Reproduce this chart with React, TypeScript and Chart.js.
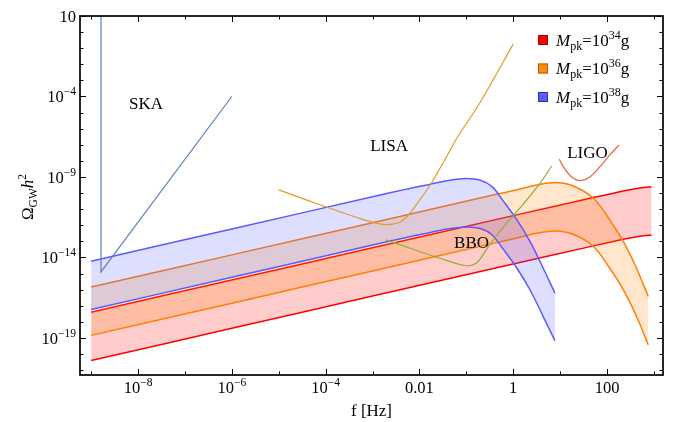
import React, { useEffect, useRef } from "react";
import { Chart, registerables } from "chart.js";
Chart.register(...registerables);

// ---- axis ranges (log10 exponents) ----
const X_MIN_EXP = -9.237;
const X_MAX_EXP = 3.194;
const Y_MIN_EXP = -21.3;
const Y_MAX_EXP = 1;

// ---- ticks ----
const xMajorExps = [-8, -6, -4, -2, 0, 2];
const xMajorBase = ["10", "10", "10", "0.01", "1", "100"];
const xMajorSup = ["−8", "−6", "−4", "", "", ""];
const xMinorExps = [-9, -7, -5, -3, -1, 1, 3];
const yMajorExps = [1, -4, -9, -14, -19];
const yMajorBase = ["10", "10", "10", "10", "10"];
const yMajorSup = ["", "−4", "−9", "−14", "−19"];
const yMinorExps = [0, -1, -2, -3, -5, -6, -7, -8, -10, -11, -12, -13, -15, -16, -17, -18, -20, -21];

// ---- PBH-induced GW bands (log10 f, log10 Ω) ----
const redLogF = [-9, -6, -3, 0, 1.5, 2.2, 2.6, 2.95];
const redUpperLogO = [-17.4, -15.4, -13.4, -11.4, -10.42, -9.96, -9.73, -9.6];
const redLowerLogO = [-20.4, -18.4, -16.4, -14.4, -13.42, -12.96, -12.73, -12.6];

const orangeLogF = [-9, -6, -3, -0.5, 0.1, 0.5, 0.89, 1.28, 1.71, 2.06, 2.35, 2.63, 2.88];
const orangeUpperLogO = [-15.84, -13.84, -11.84, -10.17, -9.78, -9.5, -9.35, -9.56, -10.32, -11.67, -13.02, -14.67, -16.43];
const orangeLowerLogO = [-18.84, -16.84, -14.84, -13.17, -12.78, -12.5, -12.35, -12.56, -13.32, -14.67, -16.02, -17.67, -19.43];

const blueLogF = [-9, -6, -3, -2.3, -1.77, -1.35, -1.0, -0.7, -0.45, -0.21, 0.08, 0.36, 0.64, 0.89];
const blueUpperLogO = [-14.23, -12.23, -10.23, -9.77, -9.45, -9.2, -9.1, -9.2, -9.6, -10.5, -11.67, -13.02, -14.67, -16.22];
const blueLowerLogO = [-17.23, -15.23, -13.23, -12.77, -12.45, -12.2, -12.1, -12.2, -12.6, -13.5, -14.67, -16.02, -17.67, -19.18];

// ---- detector sensitivity curves ----
const skaLogF = [-8.79, -8.79, -6.0];
const skaLogO = [2, -14.9, -4.0];

const lisaLogF = [-5.0, -4.0, -3.3, -2.9, -2.64, -2.4, -2.2, -2.0, -1.77, -1.42, -1.2, -0.7, 0];
const lisaLogO = [-9.8, -10.85, -11.55, -11.88, -11.95, -11.78, -11.25, -10.45, -9.5, -7.74, -6.58, -4.34, -0.75];

const bboLogF = [-2.71, -2.13, -1.56, -1.03, -0.79, -0.5, -0.15, 0.21, 0.57, 0.82];
const bboLogO = [-12.91, -13.49, -14.05, -14.5, -14.36, -13.2, -11.9, -10.7, -9.4, -8.32];

const ligoLogF = [0.98, 1.14, 1.28, 1.44, 1.64, 1.85, 2.06, 2.26];
const ligoLogO = [-7.9, -8.67, -9.08, -9.23, -8.98, -8.36, -7.63, -7.0];

// ---- legend ----
const legendExps = ["34", "36", "38"];
const legendColors = ["#ff0000", "#ff8a10", "#5a5aff"];
const legendBorders = ["#b00000", "#c05a00", "#3030b0"];

// ---- annotations (text, log10 f, log10 Ω of left/middle anchor) ----
const annoText = ["SKA", "LISA", "LIGO", "BBO"];
const annoLogF = [-8.19, -3.05, 1.15, -1.26];
const annoLogO = [-4.4, -7.01, -7.45, -13.04];

const FONT = '"Liberation Serif", "Times New Roman", serif';

const pts = (lx: number[], ly: number[]) => lx.map((v, i) => ({ x: 10 ** v, y: 10 ** ly[i] }));

type Part = { t: string; size: number; italic?: boolean; dy?: number };

function drawRich(ctx: CanvasRenderingContext2D, parts: Part[], x: number, y: number, align: "left" | "right" | "center") {
  let total = 0;
  const widths = parts.map((p) => {
    ctx.font = `${p.italic ? "italic " : ""}${p.size}px ${FONT}`;
    const w = ctx.measureText(p.t).width;
    total += w;
    return w;
  });
  let cx = align === "left" ? x : align === "right" ? x - total : x - total / 2;
  ctx.textAlign = "left";
  ctx.textBaseline = "alphabetic";
  parts.forEach((p, i) => {
    ctx.font = `${p.italic ? "italic " : ""}${p.size}px ${FONT}`;
    ctx.fillText(p.t, cx, y + (p.dy || 0));
    cx += widths[i];
  });
}

const decoPlugin = {
  id: "deco",
  afterDraw(chart: any) {
    const { ctx, chartArea: a, scales } = chart;
    const xs = scales.x;
    const ys = scales.y;
    ctx.save();
    ctx.fillStyle = "#000";
    ctx.strokeStyle = "#000";
    ctx.lineWidth = 1.7;
    ctx.strokeRect(a.left, a.top, a.right - a.left, a.bottom - a.top);
    ctx.lineWidth = 1;
    const tick = (x1: number, y1: number, x2: number, y2: number) => {
      ctx.beginPath();
      ctx.moveTo(x1, y1);
      ctx.lineTo(x2, y2);
      ctx.stroke();
    };
    xMajorExps.forEach((e) => {
      const px = Math.round(xs.getPixelForValue(10 ** e)) + 0.5;
      tick(px, a.bottom, px, a.bottom - 6);
      tick(px, a.top, px, a.top + 6);
    });
    xMinorExps.forEach((e) => {
      const px = Math.round(xs.getPixelForValue(10 ** e)) + 0.5;
      tick(px, a.bottom, px, a.bottom - 3.5);
      tick(px, a.top, px, a.top + 3.5);
    });
    yMajorExps.forEach((e) => {
      const py = Math.round(ys.getPixelForValue(10 ** e)) + 0.5;
      tick(a.left, py, a.left + 6, py);
      tick(a.right, py, a.right - 6, py);
    });
    yMinorExps.forEach((e) => {
      const py = Math.round(ys.getPixelForValue(10 ** e)) + 0.5;
      tick(a.left, py, a.left + 3.5, py);
      tick(a.right, py, a.right - 3.5, py);
    });
    xMajorExps.forEach((e, i) => {
      const px = xs.getPixelForValue(10 ** e);
      const parts: Part[] = [{ t: xMajorBase[i], size: 16.5 }];
      if (xMajorSup[i]) parts.push({ t: xMajorSup[i], size: 11.5, dy: -7 });
      drawRich(ctx, parts, px, a.bottom + 18, "center");
    });
    yMajorExps.forEach((e, i) => {
      const py = ys.getPixelForValue(10 ** e);
      const parts: Part[] = [{ t: yMajorBase[i], size: 16.5 }];
      if (yMajorSup[i]) parts.push({ t: yMajorSup[i], size: 11.5, dy: -7 });
      drawRich(ctx, parts, a.left - 4, py + 6, "right");
    });
    drawRich(ctx, [{ t: "f [Hz]", size: 17 }], (a.left + a.right) / 2, 416, "center");
    ctx.save();
    ctx.translate(33, 197);
    ctx.rotate(-Math.PI / 2);
    drawRich(
      ctx,
      [
        { t: "Ω", size: 17 },
        { t: "GW", size: 11.5, dy: 4 },
        { t: "h", size: 17, italic: true },
        { t: "2", size: 11.5, dy: -7 },
      ],
      0,
      0,
      "center"
    );
    ctx.restore();
    annoText.forEach((t, i) => {
      const px = xs.getPixelForValue(10 ** annoLogF[i]);
      const py = ys.getPixelForValue(10 ** annoLogO[i]);
      drawRich(ctx, [{ t, size: 17 }], px, py + 6, "left");
    });
    legendExps.forEach((ex, i) => {
      const cy = 40 + i * 28.5;
      ctx.fillStyle = legendColors[i];
      ctx.fillRect(538, cy - 5, 10, 10);
      ctx.strokeStyle = legendBorders[i];
      ctx.lineWidth = 1;
      ctx.strokeRect(538.5, cy - 4.5, 9, 9);
      ctx.fillStyle = "#000";
      drawRich(
        ctx,
        [
          { t: "M", size: 17, italic: true },
          { t: "pk", size: 12, dy: 4 },
          { t: "=10", size: 17 },
          { t: ex, size: 12, dy: -7 },
          { t: "g", size: 17 },
        ],
        556,
        cy + 5.5,
        "left"
      );
    });
    ctx.restore();
  },
};

export default function App() {
  const ref = useRef<HTMLCanvasElement | null>(null);
  useEffect(() => {
    document.body.style.margin = "0";
    const canvas = ref.current;
    if (!canvas) return;
    const band = (data: any[], color: string, fill: any, bg: string) => ({
      data,
      borderColor: color,
      borderWidth: 1.5,
      pointRadius: 0,
      tension: 0.35,
      fill,
      backgroundColor: bg,
    });
    const det = (data: any[], color: string, tension = 0.35) => ({
      data,
      borderColor: color,
      borderWidth: 1.2,
      pointRadius: 0,
      fill: false,
      tension,
    });
    const chart = new Chart(canvas, {
      type: "line",
      data: {
        datasets: [
          det(pts(lisaLogF, lisaLogO), "#e19c24"),
          det(pts(bboLogF, bboLogO), "#8fb032"),
          det(pts(ligoLogF, ligoLogO), "#eb6235"),
          det(pts(skaLogF, skaLogO), "#5e81b5", 0),
          band(pts(blueLogF, blueUpperLogO), "#5a5aff", false, "transparent"),
          band(pts(blueLogF, blueLowerLogO), "#5a5aff", 4, "rgba(90,90,255,0.2)"),
          band(pts(orangeLogF, orangeUpperLogO), "#ff8000", false, "transparent"),
          band(pts(orangeLogF, orangeLowerLogO), "#ff8000", 6, "rgba(255,128,0,0.2)"),
          band(pts(redLogF, redUpperLogO), "#ff0000", false, "transparent"),
          band(pts(redLogF, redLowerLogO), "#ff0000", 8, "rgba(255,0,0,0.2)"),
        ] as any,
      },
      options: {
        animation: false,
        responsive: false,
        devicePixelRatio: 1,
        layout: { padding: { left: 80, right: 17, top: 16, bottom: 47 } },
        scales: {
          x: { type: "logarithmic", min: 10 ** X_MIN_EXP, max: 10 ** X_MAX_EXP, display: false },
          y: { type: "logarithmic", min: 10 ** Y_MIN_EXP, max: 10 ** Y_MAX_EXP, display: false },
        },
        plugins: { legend: { display: false }, tooltip: { enabled: false } },
      } as any,
      plugins: [decoPlugin],
    });
    return () => chart.destroy();
  }, []);
  return <canvas ref={ref} width={680} height={422} style={{ display: "block" }} />;
}
